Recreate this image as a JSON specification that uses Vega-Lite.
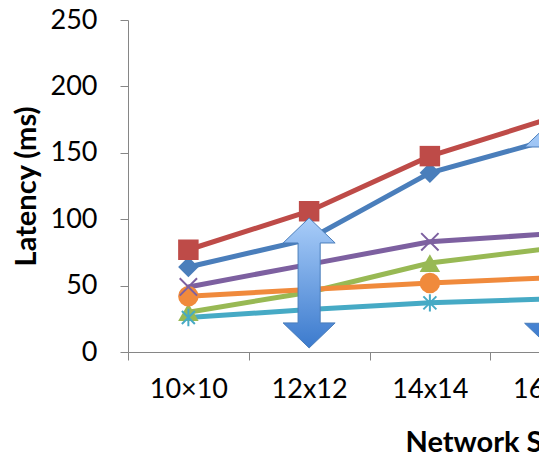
{
  "$schema": "https://vega.github.io/schema/vega-lite/v6.json",
  "width": 411,
  "height": 332,
  "autosize": {"type": "none"},
  "padding": {"left": 128, "top": 20, "right": 0, "bottom": 104},
  "background": "white",
  "config": {"view": {"stroke": null}, "font": "Lato"},
  "datasets": {
    "latency": [
      {"size": "10×10", "series": "Series1", "latency": 64},
      {"size": "12x12", "series": "Series1", "latency": 85},
      {"size": "14x14", "series": "Series1", "latency": 135},
      {"size": "16x16", "series": "Series1", "latency": 160},
      {"size": "10×10", "series": "Series2", "latency": 77},
      {"size": "12x12", "series": "Series2", "latency": 106},
      {"size": "14x14", "series": "Series2", "latency": 147.5},
      {"size": "16x16", "series": "Series2", "latency": 176},
      {"size": "10×10", "series": "Series3", "latency": 30},
      {"size": "12x12", "series": "Series3", "latency": 45},
      {"size": "14x14", "series": "Series3", "latency": 67},
      {"size": "16x16", "series": "Series3", "latency": 78},
      {"size": "10×10", "series": "Series4", "latency": 49},
      {"size": "12x12", "series": "Series4", "latency": 66},
      {"size": "14x14", "series": "Series4", "latency": 83},
      {"size": "16x16", "series": "Series4", "latency": 89},
      {"size": "10×10", "series": "Series5", "latency": 26},
      {"size": "12x12", "series": "Series5", "latency": 32},
      {"size": "14x14", "series": "Series5", "latency": 37},
      {"size": "16x16", "series": "Series5", "latency": 40},
      {"size": "10×10", "series": "Series6", "latency": 42},
      {"size": "12x12", "series": "Series6", "latency": 47},
      {"size": "14x14", "series": "Series6", "latency": 52},
      {"size": "16x16", "series": "Series6", "latency": 56}
    ],
    "arrowA": [{"size": "12x12", "latency": 52}],
    "arrowB": [{"size": "16x16", "latency": 88}]
  },
  "layer": [
    {
      "data": {"name": "latency"},
      "mark": {"type": "line", "strokeWidth": 5, "strokeCap": "round"},
      "encoding": {
        "x": {
          "field": "size", "type": "ordinal",
          "sort": ["10×10", "12x12", "14x14", "16x16"],
          "scale": {"type": "band", "range": [0, 483], "paddingInner": 0, "paddingOuter": 0},
          "axis": {
            "title": "Network Size",
            "titleFont": "Lato", "titleFontWeight": "bold", "titleFontSize": 29, "titleColor": "black",
            "titleAnchor": "start", "titleX": 277, "titleY": 99, "titleBaseline": "alphabetic",
            "labelFont": "Lato", "labelFontSize": 27, "labelColor": "black", "labelAngle": 0,
            "labelPadding": 16, "tickBand": "extent", "tickSize": 8,
            "tickColor": "#868686", "domainColor": "#868686", "grid": false
          }
        },
        "y": {
          "field": "latency", "type": "quantitative",
          "scale": {"domain": [0, 250], "nice": false},
          "axis": {
            "title": "Latency (ms)", "values": [0, 50, 100, 150, 200, 250],
            "titleFont": "Lato", "titleFontWeight": "bold", "titleFontSize": 29, "titleColor": "black",
            "titlePadding": 9,
            "labelFont": "Lato", "labelFontSize": 27, "labelColor": "black",
            "labelPadding": 23, "tickSize": 8,
            "tickColor": "#868686", "domainColor": "#868686", "grid": false
          }
        },
        "color": {
          "field": "series", "type": "nominal",
          "scale": {
            "domain": ["Series1", "Series2", "Series3", "Series4", "Series5", "Series6"],
            "range": ["#4A7EBB", "#BE4B48", "#98B954", "#7D60A0", "#46AAC5", "#F08A3C"]
          },
          "legend": null
        }
      }
    },
    {
      "data": {"name": "latency"},
      "transform": [{"filter": {"field": "series", "oneOf": ["Series1", "Series2", "Series3", "Series6"]}}],
      "mark": {"type": "point", "filled": true, "opacity": 1, "size": 420},
      "encoding": {
        "x": {"field": "size", "type": "ordinal", "sort": ["10×10", "12x12", "14x14", "16x16"]},
        "y": {"field": "latency", "type": "quantitative"},
        "color": {"field": "series", "type": "nominal", "legend": null},
        "shape": {
          "field": "series", "type": "nominal",
          "scale": {
            "domain": ["Series1", "Series2", "Series3", "Series4", "Series5", "Series6"],
            "range": ["diamond", "square", "triangle-up", "M-1,-1L1,1M-1,1L1,-1", "M0,-1L0,1M-0.75,-0.75L0.75,0.75M-0.75,0.75L0.75,-0.75", "circle"]
          },
          "legend": null
        }
      }
    },
    {
      "data": {"name": "latency"},
      "transform": [{"filter": {"field": "series", "oneOf": ["Series4", "Series5"]}}],
      "mark": {"type": "point", "filled": false, "opacity": 1, "size": 300, "strokeWidth": 2},
      "encoding": {
        "x": {"field": "size", "type": "ordinal", "sort": ["10×10", "12x12", "14x14", "16x16"]},
        "y": {"field": "latency", "type": "quantitative"},
        "color": {"field": "series", "type": "nominal", "legend": null},
        "shape": {"field": "series", "type": "nominal", "legend": null}
      }
    },
    {
      "data": {"name": "arrowA"},
      "mark": {
        "type": "point", "filled": true, "opacity": 1, "size": 16900,
        "shape": "M0,-1L0.4,-0.615L0.17,-0.615L0.17,0.615L0.4,0.615L0,1L-0.4,0.615L-0.17,0.615L-0.17,-0.615L-0.4,-0.615Z",
        "fill": {"gradient": "linear", "x1": 0, "y1": 0, "x2": 0, "y2": 1,
          "stops": [{"offset": 0, "color": "#a9cdf9"}, {"offset": 1, "color": "#3b7acd"}]},
        "stroke": "#4a7ebb", "strokeWidth": 1
      },
      "encoding": {
        "x": {"field": "size", "type": "ordinal", "sort": ["10×10", "12x12", "14x14", "16x16"]},
        "y": {"field": "latency", "type": "quantitative"}
      }
    },
    {
      "data": {"name": "arrowB"},
      "mark": {
        "type": "point", "filled": true, "opacity": 1, "size": 51076,
        "shape": "M0,-1L0.23,-0.78L0.097,-0.78L0.097,0.78L0.23,0.78L0,1L-0.23,0.78L-0.097,0.78L-0.097,-0.78L-0.23,-0.78Z",
        "fill": {"gradient": "linear", "x1": 0, "y1": 0, "x2": 0, "y2": 1,
          "stops": [{"offset": 0, "color": "#a9cdf9"}, {"offset": 1, "color": "#3b7acd"}]},
        "stroke": "#4a7ebb", "strokeWidth": 1
      },
      "encoding": {
        "x": {"field": "size", "type": "ordinal", "sort": ["10×10", "12x12", "14x14", "16x16"]},
        "y": {"field": "latency", "type": "quantitative"}
      }
    }
  ]
}
